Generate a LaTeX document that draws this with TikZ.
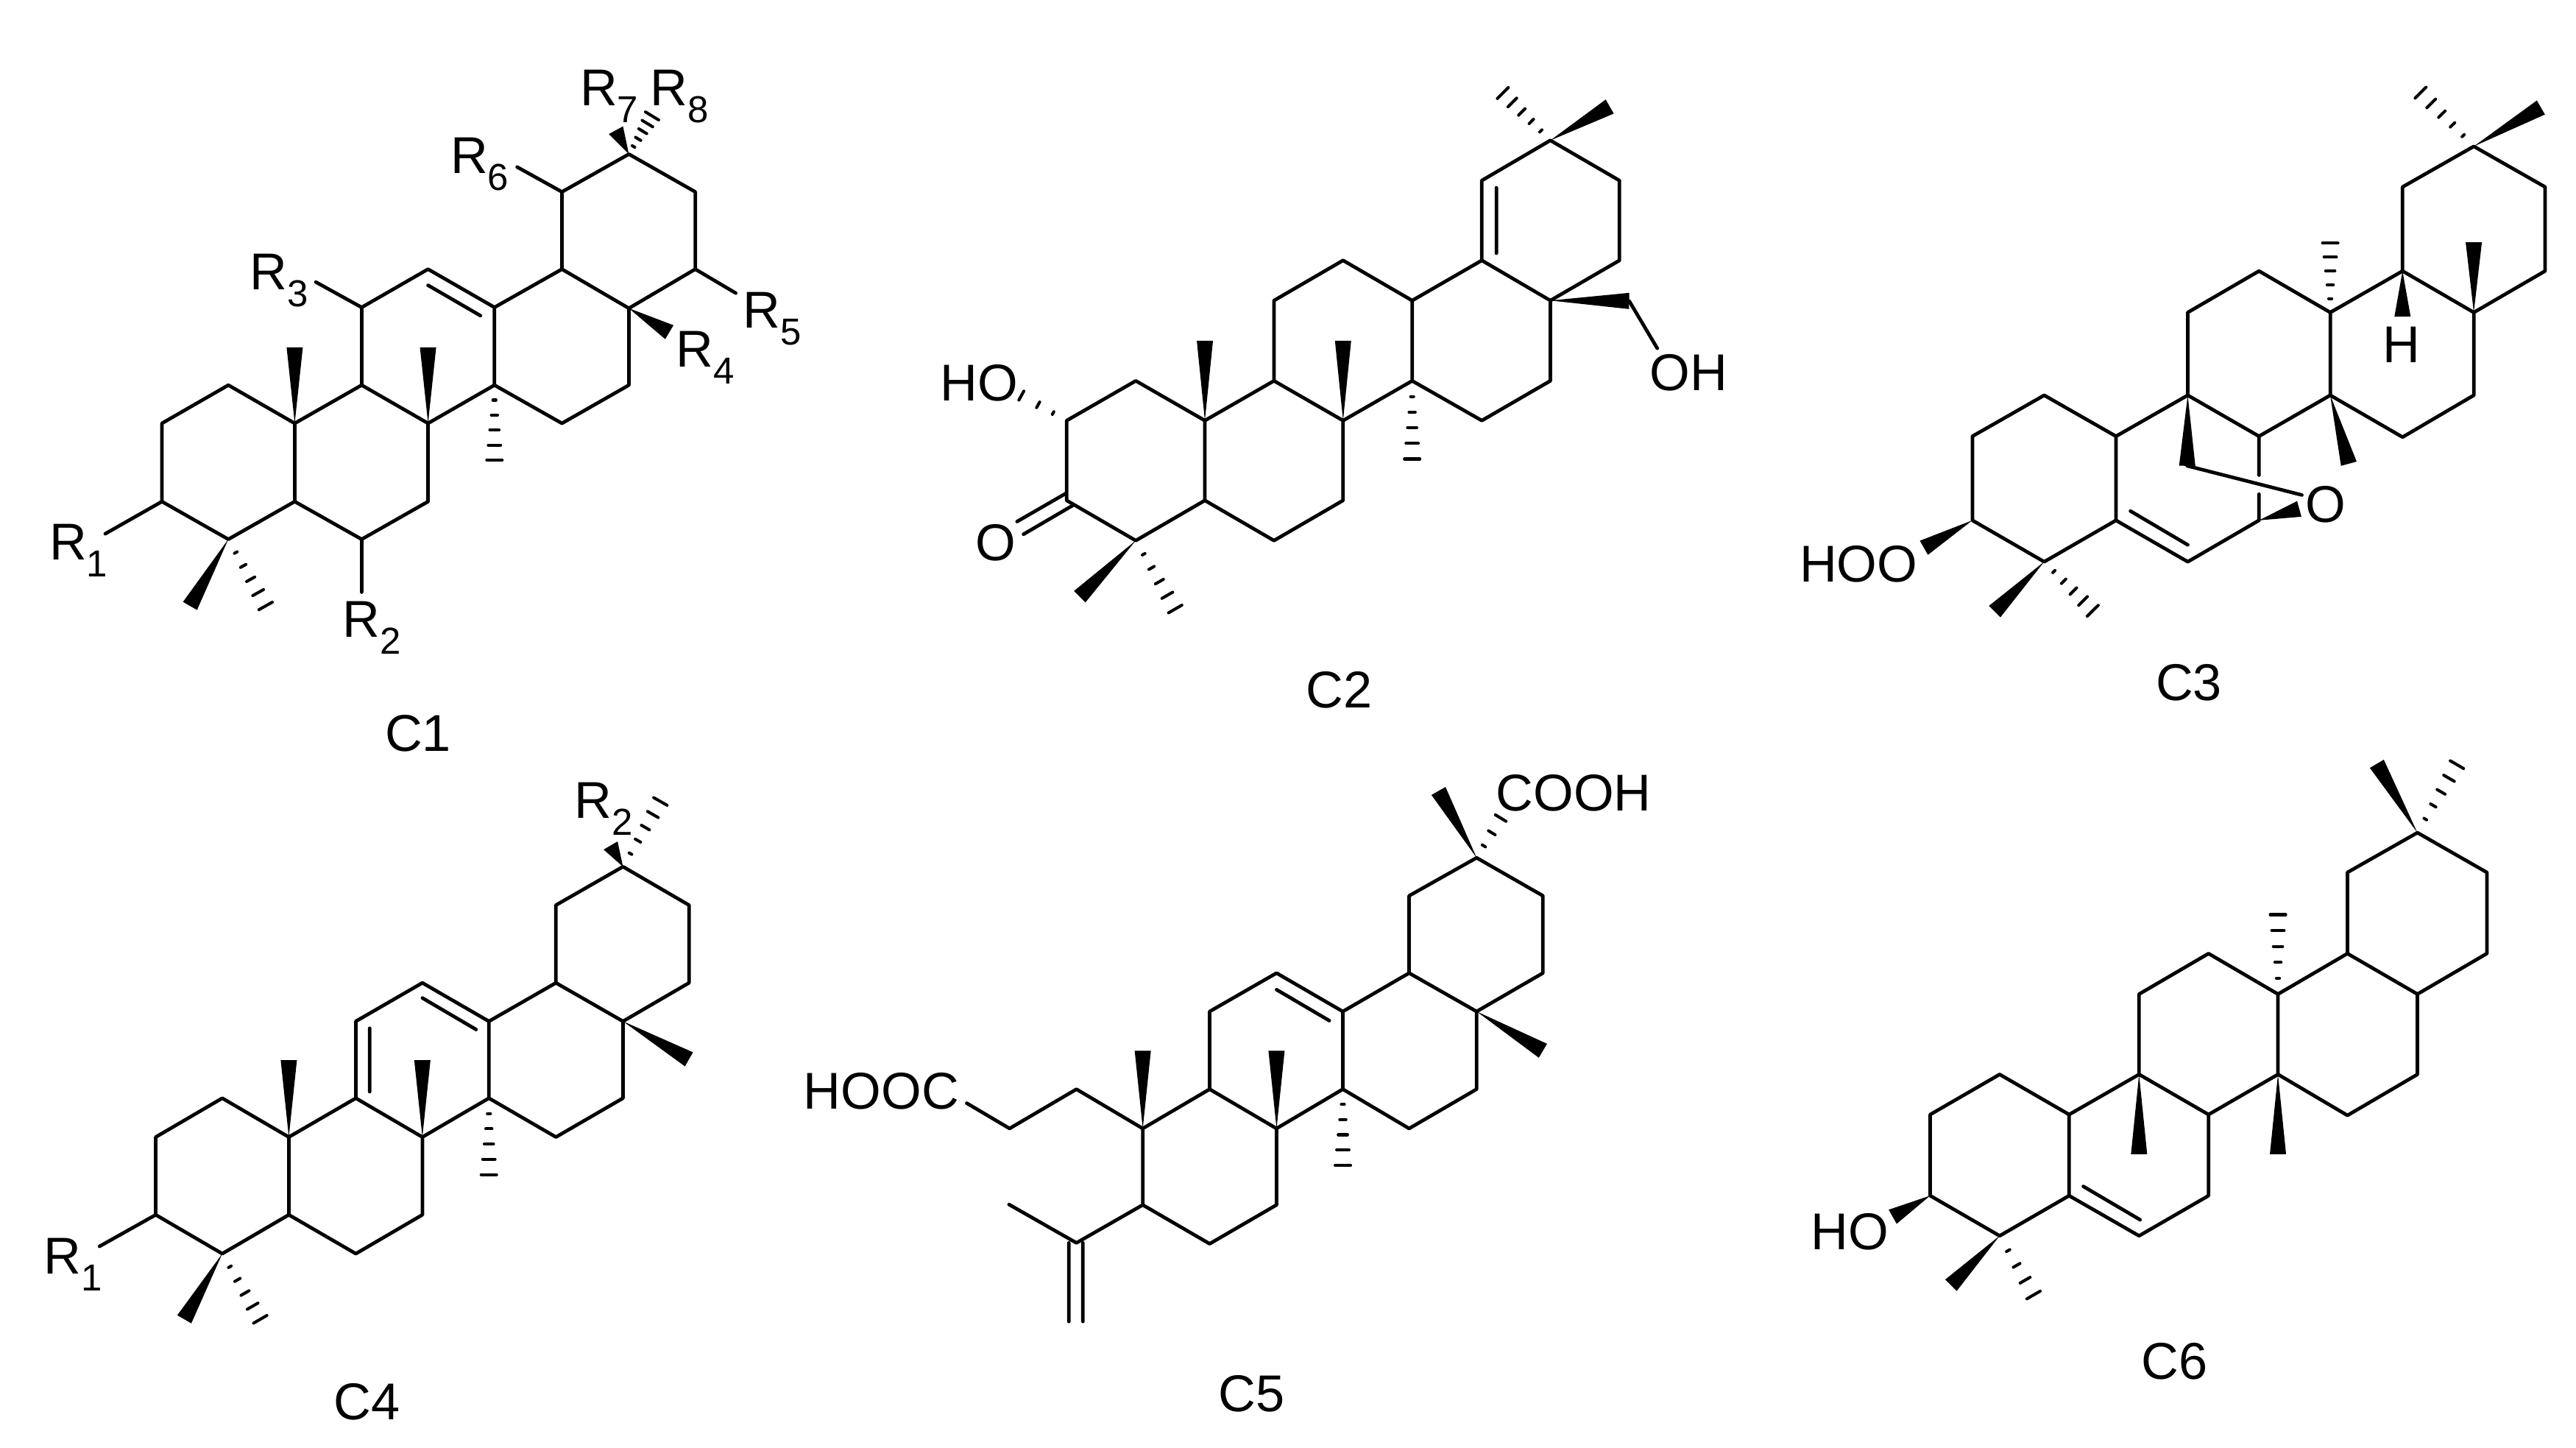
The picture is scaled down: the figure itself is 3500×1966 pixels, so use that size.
\documentclass[tikz,border=0pt]{standalone}
\usepackage{fontspec}
\setmainfont{Liberation Sans}
\usetikzlibrary{calc}
\newcommand\Rsub[2]{R\raisebox{-0.33em}{\fontsize{14.5}{14.5}\selectfont #1}}
\tikzset{
  bondline/.style={line width=1.35pt,line cap=round,line join=round,black},
  hashline/.style={line width=1.15pt,line cap=round,black},
  chemlabel/.style={anchor=base west,inner sep=0pt,outer sep=0pt,xshift=-0.04cm,font=\fontsize{20}{20}\selectfont},
  caplabel/.style={anchor=base west,inner sep=0pt,outer sep=0pt,xshift=-0.02cm,font=\fontsize{20}{20}\selectfont}
}
\newcommand\wedgebond[2]{\begin{scope}[reset cm]\fill[black] (#1) -- ($(#2)!0.11cm!90:(#1)$) -- ($(#2)!0.11cm!-90:(#1)$) -- cycle;\end{scope}}
\newcommand\hashx[4]{\begin{scope}[reset cm]\foreach \hpos in {#1}{%
  \coordinate (hp) at ($(#3)!\hpos!(#4)$);
  \draw[hashline] ($(hp)!\hpos*#2!90:(#3)$) -- ($(hp)!\hpos*#2!-90:(#3)$);}\end{scope}}
\newcommand\hashbond[2]{\hashx{.2,.4,.6,.8,1}{0.105cm}{#1}{#2}}
\begin{document}
\begin{tikzpicture}[x=0.01cm,y=-0.01cm]
\path[fill=white,use as bounding box] (0,0) rectangle (3500,1966);
% ---------- C1
\begin{scope}[shift={(0,50)},xscale=.7334,yscale=.625]
\coordinate (pa) at (300,840);\coordinate (pb) at (423,757);\coordinate (pc) at (546,840);\coordinate (pd) at (546,1010);\coordinate (pe) at (423,1092);\coordinate (pf) at (300,1010);
\coordinate (pg) at (670,757);\coordinate (ph) at (793,840);\coordinate (pi) at (793,1010);\coordinate (pj) at (670,1092);
\coordinate (pk) at (670,588);\coordinate (pl) at (793,505);\coordinate (pm) at (916,588);\coordinate (pn) at (916,757);
\coordinate (po) at (1041,505);\coordinate (pp) at (1165,590);\coordinate (pq) at (1165,757);\coordinate (pr) at (1041,840);
\coordinate (ps) at (1041,337);\coordinate (pt) at (1165,255);\coordinate (pu) at (1288,337);\coordinate (pv) at (1288,505);
\coordinate (d1) at (793,540);\coordinate (d2) at (890,606);
\coordinate (s1) at (195,1080);\coordinate (s2) at (670,1207);\coordinate (s3) at (585,533);\coordinate (s5) at (1363,557);\coordinate (s6) at (958,283);
\coordinate (w1) at (352,1237);\coordinate (h1) at (492,1237);\coordinate (w2) at (546,675);\coordinate (w3) at (793,675);\coordinate (h2) at (916,920);\coordinate (w4) at (1240,642);\coordinate (w5) at (1141,203);\coordinate (h3) at (1208,172);
\draw[bondline] (pa)--(pb)--(pc)--(pd)--(pe)--(pf)--cycle;
\draw[bondline] (pc)--(pg)--(ph)--(pi)--(pj)--(pd);
\draw[bondline] (pg)--(pk)--(pl)--(pm)--(pn)--(ph);
\draw[bondline] (pm)--(po)--(pp)--(pq)--(pr)--(pn);
\draw[bondline] (po)--(ps)--(pt)--(pu)--(pv)--(pp);
\draw[bondline] (d1)--(d2);
\draw[bondline] (pf)--(s1) (pj)--(s2) (pk)--(s3) (pv)--(s5) (ps)--(s6);
\wedgebond{pe}{w1}\hashbond{pe}{h1}\wedgebond{pc}{w2}\wedgebond{ph}{w3}\hashbond{pn}{h2}\wedgebond{pp}{w4}\wedgebond{pt}{w5}\hashbond{pt}{h3}
\node[chemlabel] (ar1) at (97,1137) {\Rsub{1}{}};
\node[chemlabel] (ar2) at (640,1305) {\Rsub{2}{}};
\node[chemlabel] (ar3) at (468,550) {\Rsub{3}{}};
\node[chemlabel] (ar4) at (1258,718) {\Rsub{4}{}};
\node[chemlabel] (ar5) at (1382,633) {\Rsub{5}{}};
\node[chemlabel] (ar6) at (840,297) {\Rsub{6}{}};
\node[chemlabel] (ar7) at (1080,150) {\Rsub{7}{}};
\node[chemlabel] (ar8) at (1210,150) {\Rsub{8}{}};
\node[caplabel] (acap) at (716,1552) {C1};
\end{scope}
% ---------- C2
\begin{scope}[shift={(1230,100)},xscale=.7334,yscale=.574]
\coordinate (pa) at (299,821);\coordinate (pb) at (427,727);\coordinate (pc) at (555,821);\coordinate (pd) at (555,1010);\coordinate (pe) at (427,1105);\coordinate (pf) at (299,1010);
\coordinate (pg) at (683,727);\coordinate (ph) at (811,821);\coordinate (pi) at (811,1010);\coordinate (pj) at (683,1105);
\coordinate (pk) at (683,537);\coordinate (pl) at (811,442);\coordinate (pm) at (939,537);\coordinate (pn) at (939,727);
\coordinate (po) at (1068,442);\coordinate (pp) at (1195,537);\coordinate (pq) at (1195,727);\coordinate (pr) at (1068,821);
\coordinate (ps) at (1068,253);\coordinate (pt) at (1195,158);\coordinate (pu) at (1323,253);\coordinate (pv) at (1323,442);
\coordinate (d1) at (1095,270);\coordinate (d2) at (1095,425);
\coordinate (e1) at (207,1060);\coordinate (e2) at (298,993);\coordinate (e3) at (219,1090);\coordinate (e4) at (310,1022);
\coordinate (w1) at (323,1238);\coordinate (h1) at (500,1267);\coordinate (w2) at (555,632);\coordinate (w3) at (811,632);\coordinate (h2) at (939,912);\coordinate (w4) at (1341,538);\coordinate (w5) at (1305,78);\coordinate (h3) at (1107,46);\coordinate (h4) at (215,762);
\coordinate (s1) at (1393,650);
\draw[bondline] (pa)--(pb)--(pc)--(pd)--(pe)--(pf)--cycle;
\draw[bondline] (pc)--(pg)--(ph)--(pi)--(pj)--(pd);
\draw[bondline] (pg)--(pk)--(pl)--(pm)--(pn)--(ph);
\draw[bondline] (pm)--(po)--(pp)--(pq)--(pr)--(pn);
\draw[bondline] (po)--(ps)--(pt)--(pu)--(pv)--(pp);
\draw[bondline] (d1)--(d2) (e1)--(e2) (e3)--(e4) (w4)--(s1);
\wedgebond{pe}{w1}\hashbond{pe}{h1}\wedgebond{pc}{w2}\wedgebond{ph}{w3}\hashbond{pn}{h2}\wedgebond{pp}{w4}\wedgebond{pt}{w5}\hashbond{pt}{h3}
\hashx{.3,.63,1}{0.07cm}{pa}{h4}
\node[chemlabel] (bho) at (70,775) {HO};
\node[chemlabel] (boh) at (1385,750) {OH};
\node[chemlabel] (bo) at (135,1152) {O};
\node[caplabel] (bcap) at (745,1500) {C2};
\end{scope}
% ---------- C3
\begin{scope}[shift={(2400,80)},xscale=.7015,yscale=.574]
\coordinate (pa) at (399,893);\coordinate (pb) at (538,796);\coordinate (pc) at (677,893);\coordinate (pd) at (677,1092);\coordinate (pe) at (538,1190);\coordinate (pf) at (399,1092);
\coordinate (pg) at (816,796);\coordinate (ph) at (954,893);\coordinate (pi) at (954,1092);\coordinate (pj) at (816,1190);
\coordinate (g1) at (954,985);\coordinate (g2) at (954,1030);
\coordinate (pk) at (816,600);\coordinate (pl) at (954,502);\coordinate (pm) at (1092,600);\coordinate (pn) at (1092,796);
\coordinate (po) at (1232,502);\coordinate (pp) at (1370,600);\coordinate (pq) at (1370,796);\coordinate (pr) at (1232,895);
\coordinate (ps) at (1232,303);\coordinate (pt) at (1370,207);\coordinate (pu) at (1508,303);\coordinate (pv) at (1508,502);
\coordinate (d1) at (705,1070);\coordinate (d2) at (816,1150);
\coordinate (w1) at (305,1157);\coordinate (w2) at (442,1308);\coordinate (h1) at (632,1306);\coordinate (w3) at (815,963);\coordinate (w4) at (1032,1065);\coordinate (w5) at (1128,958);\coordinate (h2) at (1092,436);\coordinate (w6) at (1232,610);\coordinate (w7) at (1370,434);\coordinate (w8) at (1500,115);\coordinate (h3) at (1267,80);
\coordinate (s1) at (1037,1032);
\draw[bondline] (pa)--(pb)--(pc)--(pd)--(pe)--(pf)--cycle;
\draw[bondline] (pc)--(pg)--(ph)--(g1) (g2)--(pi)--(pj)--(pd);
\draw[bondline] (pg)--(pk)--(pl)--(pm)--(pn)--(ph);
\draw[bondline] (pm)--(po)--(pp)--(pq)--(pr)--(pn);
\draw[bondline] (po)--(ps)--(pt)--(pu)--(pv)--(pp);
\draw[bondline] (d1)--(d2) (w3)--(s1);
\wedgebond{pf}{w1}\wedgebond{pe}{w2}\hashbond{pe}{h1}\wedgebond{pg}{w3}\wedgebond{pi}{w4}\wedgebond{pn}{w5}\hashbond{pm}{h2}\wedgebond{po}{w6}\wedgebond{pp}{w7}\wedgebond{pt}{w8}\hashbond{pt}{h3}
\node[chemlabel] (choo) at (70,1238) {HOO};
\node[chemlabel] (co) at (1050,1097) {O};
\node[chemlabel] (ch) at (1200,718) {H};
\node[caplabel] (ccap) at (757,1518) {C3};
\end{scope}
% ---------- C4
\begin{scope}[shift={(0,1040)},xscale=.6696,yscale=.5867]
\coordinate (pa) at (316,860);\coordinate (pb) at (451,770);\coordinate (pc) at (586,860);\coordinate (pd) at (586,1040);\coordinate (pe) at (451,1130);\coordinate (pf) at (316,1040);
\coordinate (pg) at (722,770);\coordinate (ph) at (857,860);\coordinate (pi) at (857,1040);\coordinate (pj) at (722,1130);
\coordinate (pk) at (722,592);\coordinate (pl) at (857,503);\coordinate (pm) at (992,592);\coordinate (pn) at (992,770);
\coordinate (po) at (1128,503);\coordinate (pp) at (1264,592);\coordinate (pq) at (1264,770);\coordinate (pr) at (1128,860);
\coordinate (ps) at (1128,323);\coordinate (pt) at (1264,234);\coordinate (pu) at (1398,323);\coordinate (pv) at (1398,503);
\coordinate (d1) at (750,608);\coordinate (d2) at (750,755);\coordinate (d3) at (857,538);\coordinate (d4) at (966,611);
\coordinate (s1) at (202,1113);
\coordinate (w1) at (374,1282);\coordinate (h1) at (528,1282);\coordinate (w2) at (586,682);\coordinate (w3) at (857,682);\coordinate (h2) at (992,947);\coordinate (w4) at (1398,680);\coordinate (w5) at (1239,185);\coordinate (h3) at (1340,83);
\draw[bondline] (pa)--(pb)--(pc)--(pd)--(pe)--(pf)--cycle;
\draw[bondline] (pc)--(pg)--(ph)--(pi)--(pj)--(pd);
\draw[bondline] (pg)--(pk)--(pl)--(pm)--(pn)--(ph);
\draw[bondline] (pm)--(po)--(pp)--(pq)--(pr)--(pn);
\draw[bondline] (po)--(ps)--(pt)--(pu)--(pv)--(pp);
\draw[bondline] (d1)--(d2) (d3)--(d4) (pf)--(s1);
\wedgebond{pe}{w1}\hashbond{pe}{h1}\wedgebond{pc}{w2}\wedgebond{ph}{w3}\hashbond{pn}{h2}\wedgebond{pp}{w4}\wedgebond{pt}{w5}\hashbond{pt}{h3}
\node[chemlabel] (dr1) at (95,1177) {\Rsub{1}{}};
\node[chemlabel] (dr2) at (1172,122) {\Rsub{2}{}};
\node[caplabel] (dcap) at (680,1515) {C4};
\end{scope}
% ---------- C5
\begin{scope}[shift={(1060,1030)},xscale=.7972,yscale=.5931]
\coordinate (pa) at (618,848);\coordinate (pb) at (618,1023);\coordinate (pc) at (732,1112);\coordinate (pd) at (846,1023);\coordinate (pe) at (846,848);\coordinate (pf) at (732,758);
\coordinate (pg) at (732,580);\coordinate (ph) at (846,492);\coordinate (pi) at (959,580);\coordinate (pj) at (959,758);
\coordinate (pk) at (1072,492);\coordinate (pl) at (1187,580);\coordinate (pm) at (1187,758);\coordinate (pn) at (1072,848);
\coordinate (po) at (1072,315);\coordinate (pp) at (1187,228);\coordinate (pq) at (1300,315);\coordinate (pr) at (1300,492);
\coordinate (t1) at (505,758);\coordinate (t2) at (391,848);\coordinate (t3) at (318,790);
\coordinate (u1) at (505,1110);\coordinate (u2) at (390,1022);\coordinate (u3) at (492,1110);\coordinate (u4) at (492,1290);\coordinate (u5) at (516,1110);\coordinate (u6) at (516,1290);
\coordinate (d1) at (846,530);\coordinate (d2) at (936,601);
\coordinate (w1) at (618,670);\coordinate (w2) at (846,670);\coordinate (h1) at (959,932);\coordinate (w3) at (1122,75);\coordinate (h2) at (1228,137);\coordinate (w4) at (1300,670);
\draw[bondline] (pa)--(pb)--(pc)--(pd)--(pe)--(pf)--cycle;
\draw[bondline] (pf)--(pg)--(ph)--(pi)--(pj)--(pe);
\draw[bondline] (pi)--(pk)--(pl)--(pm)--(pn)--(pj);
\draw[bondline] (pk)--(po)--(pp)--(pq)--(pr)--(pl);
\draw[bondline] (pa)--(t1)--(t2)--(t3);
\draw[bondline] (pb)--(u1)--(u2) (u3)--(u4) (u5)--(u6) (d1)--(d2);
\wedgebond{pa}{w1}\wedgebond{pe}{w2}\hashbond{pj}{h1}\wedgebond{pp}{w3}\hashx{.3,.63,1}{0.085cm}{pp}{h2}\wedgebond{pl}{w4}
\node[chemlabel] (ehooc) at (45,803) {HOOC};
\node[chemlabel] (ecooh) at (1225,120) {COOH};
\node[caplabel] (ecap) at (750,1497) {C5};
\end{scope}
% ---------- C6
\begin{scope}[shift={(2420,1010)},xscale=.6888,yscale=.574]
\coordinate (pa) at (294,878);\coordinate (pb) at (431,783);\coordinate (pc) at (568,878);\coordinate (pd) at (568,1070);\coordinate (pe) at (431,1165);\coordinate (pf) at (294,1070);
\coordinate (pg) at (706,783);\coordinate (ph) at (843,878);\coordinate (pi) at (843,1070);\coordinate (pj) at (706,1165);
\coordinate (pk) at (706,593);\coordinate (pl) at (843,497);\coordinate (pm) at (980,593);\coordinate (pn) at (980,783);
\coordinate (po) at (1117,497);\coordinate (pp) at (1255,593);\coordinate (pq) at (1255,783);\coordinate (pr) at (1117,880);
\coordinate (ps) at (1117,305);\coordinate (pt) at (1255,211);\coordinate (pu) at (1392,305);\coordinate (pv) at (1392,497);
\coordinate (d1) at (596,1048);\coordinate (d2) at (708,1127);
\coordinate (w1) at (220,1120);\coordinate (w2) at (335,1282);\coordinate (h1) at (498,1305);\coordinate (w3) at (706,972);\coordinate (w4) at (980,972);\coordinate (h2) at (980,405);\coordinate (w5) at (1175,48);\coordinate (h3) at (1333,50);
\draw[bondline] (pa)--(pb)--(pc)--(pd)--(pe)--(pf)--cycle;
\draw[bondline] (pc)--(pg)--(ph)--(pi)--(pj)--(pd);
\draw[bondline] (pg)--(pk)--(pl)--(pm)--(pn)--(ph);
\draw[bondline] (pm)--(po)--(pp)--(pq)--(pr)--(pn);
\draw[bondline] (po)--(ps)--(pt)--(pu)--(pv)--(pp);
\draw[bondline] (d1)--(d2);
\wedgebond{pf}{w1}\wedgebond{pe}{w2}\hashx{.25,.5,.75,1}{0.105cm}{pe}{h1}\wedgebond{pg}{w3}\wedgebond{pn}{w4}\hashbond{pm}{h2}\wedgebond{pt}{w5}\hashbond{pt}{h3}
\node[chemlabel] (fho) at (65,1198) {HO};
\node[caplabel] (fcap) at (714,1505) {C6};
\end{scope}
\end{tikzpicture}
\end{document}
